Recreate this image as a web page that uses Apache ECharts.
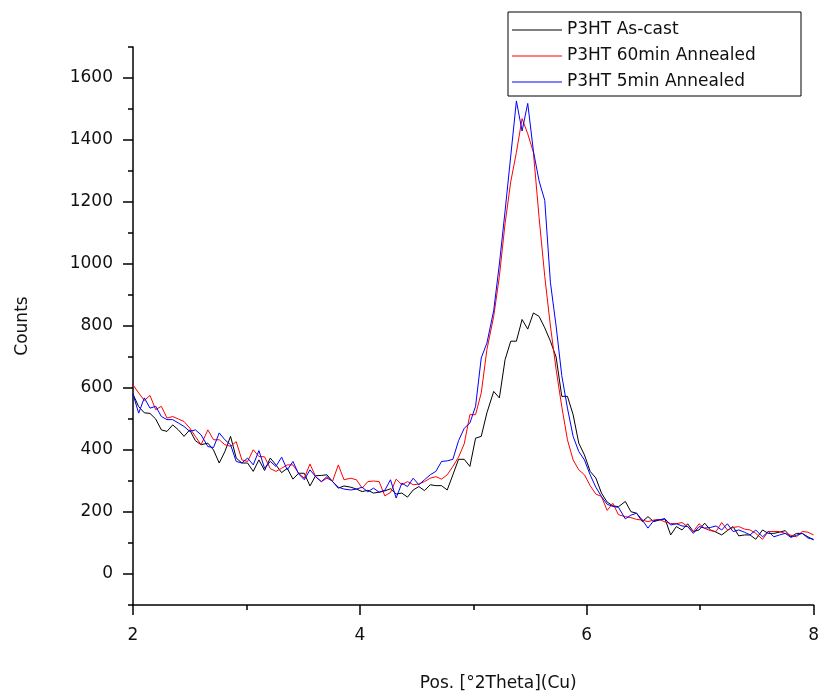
<!DOCTYPE html>
<html>
<head>
<meta charset="utf-8">
<script src="https://cdn.jsdelivr.net/npm/echarts@6/dist/echarts.min.js"></script>
<style>html,body{margin:0;padding:0;background:#fff}#c{width:822px;height:700px}</style>
</head>
<body>
<div id="c"></div>
<script>
// 2θ positions of the scan points
const twoTheta = [2.00,2.05,2.10,2.15,2.20,2.25,2.30,2.35,2.40,2.45,2.50,2.55,2.60,2.66,2.71,2.76,2.81,2.86,2.91,2.96,
3.01,3.06,3.11,3.16,3.21,3.26,3.31,3.36,3.41,3.46,3.51,3.56,3.61,3.66,3.71,3.76,3.81,3.86,3.92,3.97,
4.02,4.07,4.12,4.17,4.22,4.27,4.32,4.37,4.42,4.47,4.52,4.57,4.62,4.67,4.72,4.77,4.82,4.87,4.92,4.97,
5.02,5.07,5.12,5.18,5.23,5.28,5.33,5.38,5.43,5.48,5.53,5.58,5.63,5.68,5.73,5.78,5.83,5.88,5.93,5.98,
6.03,6.08,6.13,6.18,6.23,6.28,6.34,6.39,6.44,6.49,6.54,6.59,6.64,6.69,6.74,6.79,6.84,6.89,6.94,6.99,
7.04,7.09,7.14,7.19,7.24,7.29,7.34,7.39,7.44,7.49,7.55,7.60,7.65,7.70,7.75,7.80,7.85,7.90,7.95,8.00];

const asCast = [580,540,520,518,500,465,460,481,465,444,465,430,417,422,400,358,395,444,374,358,
358,331,368,334,374,352,327,341,306,325,325,284,317,318,320,298,277,284,280,274,
266,270,261,264,268,275,258,261,248,271,282,269,288,285,285,271,320,370,370,347,
438,444,520,589,568,691,751,751,821,790,842,831,794,751,700,573,573,514,422,384,
331,310,261,232,220,217,234,201,196,169,185,169,174,178,126,153,142,162,137,142,
164,142,135,126,140,153,123,126,126,112,142,131,131,135,140,120,131,131,120,110];

const annealed60 = [610,584,560,576,530,541,503,508,500,492,471,444,417,465,433,433,417,412,427,368,
363,401,379,378,340,331,341,352,352,325,309,355,314,298,309,300,352,304,309,304,
277,298,300,298,252,263,306,288,298,288,290,298,309,314,306,320,347,377,420,514,
514,584,724,831,960,1130,1265,1360,1469,1420,1360,1150,960,800,660,540,433,368,336,320,
285,258,250,205,228,191,185,182,176,174,169,174,176,168,163,162,166,153,137,162,
147,140,137,166,142,150,153,145,142,131,112,137,137,137,131,125,120,137,135,126];

const annealed5 = [580,519,568,535,541,508,498,498,487,476,460,465,449,411,408,455,433,417,363,358,
374,352,398,341,363,347,377,336,363,323,304,336,314,298,314,298,280,274,271,274,
280,265,277,264,270,304,245,293,282,309,288,304,320,331,363,365,370,430,470,487,
541,697,745,850,1000,1170,1348,1526,1429,1518,1364,1268,1205,940,800,640,535,444,395,368,
320,280,250,225,218,215,178,190,196,174,148,172,175,178,158,162,155,153,131,153,
148,150,155,142,162,137,142,135,126,142,120,137,120,126,131,118,125,131,116,112];

const seriesNames = ['P3HT As-cast', 'P3HT 60min Annealed', 'P3HT 5min Annealed'];
const seriesValues = [asCast, annealed60, annealed5];
const seriesColors = ['#000000', '#ff0000', '#0000ff'];

const yMajorTicks = [0,200,400,600,800,1000,1200,1400,1600];
const yMinorTicks = [-100,100,300,500,700,900,1100,1300,1500,1700];

const FONT = 'DejaVu Sans';
const chart = echarts.init(document.getElementById('c'), null, {renderer: 'canvas'});

const series = seriesNames.map((n, k) => ({
  name: n,
  type: 'line',
  data: twoTheta.map((x, i) => [x, seriesValues[k][i]]),
  symbol: 'none',
  lineStyle: {color: seriesColors[k], width: 1},
  itemStyle: {color: seriesColors[k]},
  animation: false,
  z: 3 + k
}));

chart.setOption({
  animation: false,
  backgroundColor: '#ffffff',
  grid: {left: 133, right: 5, top: 47, bottom: 95},
  legend: {
    orient: 'vertical',
    left: 508, top: 12,
    padding: [8, 6, 4, 4],
    itemWidth: 50, itemHeight: 20, itemGap: 6,
    borderColor: '#000', borderWidth: 1,
    backgroundColor: '#fff',
    textStyle: {fontFamily: FONT, fontSize: 17, color: '#111', width: 228, lineHeight: 20},
    data: seriesNames.map(n => ({name: n, icon: 'path://M0,0L50,0L50,1L0,1Z'}))
  },
  xAxis: {
    type: 'value', min: 2, max: 8, interval: 2,
    name: 'Pos. [°2Theta](Cu)', nameLocation: 'middle', nameGap: 70,
    nameTextStyle: {fontFamily: FONT, fontSize: 17, color: '#111', padding: [0, 0, 0, 50]},
    axisLine: {onZero: false, lineStyle: {color: '#000', width: 1.5}},
    axisTick: {inside: false, length: 10, lineStyle: {color: '#000', width: 1.5}},
    minorTick: {show: true, splitNumber: 2, length: 5, lineStyle: {color: '#000', width: 1.5}},
    axisLabel: {margin: 22, fontFamily: FONT, fontSize: 17, color: '#111'},
    splitLine: {show: false}
  },
  yAxis: [{
    type: 'value', min: -100, max: 1700,
    name: 'Counts', nameLocation: 'middle', nameGap: 102,
    nameTextStyle: {fontFamily: FONT, fontSize: 17, color: '#111'},
    axisLine: {onZero: false, lineStyle: {color: '#000', width: 1.5}},
    axisTick: {inside: false, length: 10, customValues: yMajorTicks, lineStyle: {color: '#000', width: 1.5}},
    axisLabel: {margin: 20, fontFamily: FONT, fontSize: 17, color: '#111', customValues: yMajorTicks,
      formatter: v => String(v)},
    splitLine: {show: false}
  }, {
    type: 'value', min: -100, max: 1700, position: 'left',
    axisLine: {show: false},
    axisTick: {show: true, inside: false, length: 5, customValues: yMinorTicks, lineStyle: {color: '#000', width: 1.5}},
    axisLabel: {show: false, customValues: yMinorTicks},
    splitLine: {show: false}
  }],
  series: series
});
</script>
</body>
</html>
